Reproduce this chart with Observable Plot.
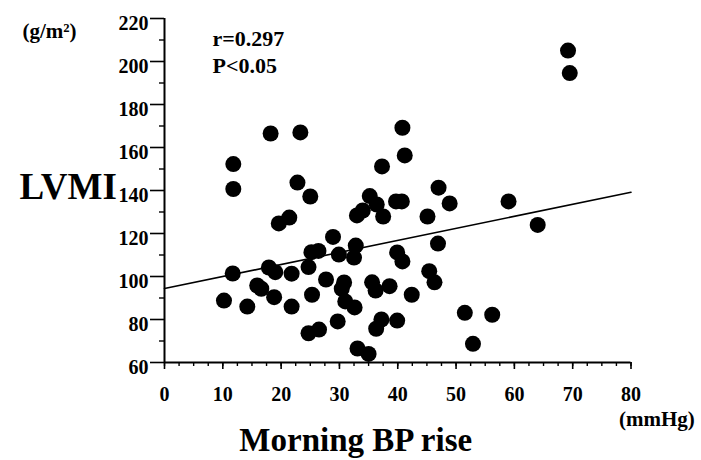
<!DOCTYPE html>
<html>
<head>
<meta charset="utf-8">
<script src="https://cdn.jsdelivr.net/npm/d3@7"></script>
<script src="https://cdn.jsdelivr.net/npm/@observablehq/plot@0.6"></script>
<style>
  html, body { margin: 0; padding: 0; background: #fff; }
  svg text { font-weight: 700 !important; font-family: 'Liberation Serif', 'Times New Roman', serif !important; }
</style>
</head>
<body>
<div id="chart"></div>
<script>
// Morning BP rise (mmHg)
const bpRise = [11.8, 11.8, 18.2, 23.3, 22.8, 25.0, 19.6, 21.4, 28.9, 40.8,
  41.2, 37.3, 35.2, 47.0, 48.9, 39.7, 40.7, 36.4, 34.0, 33.0,
  37.5, 45.1, 46.9, 25.2, 26.4, 29.9, 32.8, 32.5, 39.9, 40.8,
  11.7, 17.9, 19.0, 21.8, 24.7, 27.7, 15.9, 16.6, 10.2, 14.2,
  18.8, 21.8, 25.3, 29.7, 24.7, 26.5, 30.8, 30.4, 35.6, 36.2,
  38.6, 42.4, 45.4, 46.3, 31.0, 32.6, 37.2, 36.3, 39.9, 33.1,
  35.0, 51.5, 52.9, 56.2, 59.0, 64.0, 69.2, 69.5];
// LVMI (g/m2)
const lvmi = [152.3, 140.7, 166.5, 167.0, 143.7, 137.2, 124.7, 127.4, 118.4, 169.2,
  156.3, 151.2, 137.4, 141.3, 134.0, 134.9, 134.9, 133.5, 130.7, 128.4,
  127.9, 127.9, 115.3, 111.3, 111.9, 110.2, 114.4, 108.8, 111.2, 107.0,
  101.4, 104.2, 102.0, 101.3, 104.4, 98.6, 95.8, 94.3, 88.8, 86.0,
  90.4, 86.0, 91.5, 79.1, 73.6, 75.3, 97.2, 94.3, 97.3, 93.5,
  95.5, 91.5, 102.5, 97.3, 88.4, 85.6, 80.0, 75.7, 79.5, 66.5,
  64.0, 83.1, 68.7, 82.2, 134.9, 124.0, 205.1, 194.6];
// Regression line end points
const fitX = [0, 80];
const fitY = [94.4, 139.2];
// Axis ticks
const xTicks = [0, 10, 20, 30, 40, 50, 60, 70, 80];
const xMinorTicks = d3.range(0, 80.01, 2.5);
const yTicks = [60, 80, 100, 120, 140, 160, 180, 200, 220];
const yMinorTicks = [70, 90, 110, 130, 150, 170, 190, 210];
// Texts
const yTitle = "LVMI";
const yUnit = "(g/m²)";
const xTitle = "Morning BP rise";
const xUnit = "(mmHg)";
const statR = "r=0.297";
const statP = "P<0.05";

const points = bpRise.map((x, i) => ({x, y: lvmi[i]}));
const fit = fitX.map((x, i) => ({x, y: fitY[i]}));

const font = "'Liberation Serif', 'Times New Roman', serif";
const tx = d => d;
const textOpts = {text: tx, lineAnchor: "middle", fontWeight: "bold", fontFamily: font};

const chart = Plot.plot({
  width: 701,
  height: 460,
  marginLeft: 164,
  marginRight: 70.5,
  marginTop: 18,
  marginBottom: 98,
  x: {domain: [0, 80]},
  y: {domain: [60, 220]},
  style: {fontFamily: font, fontWeight: "bold", fontSize: "20px", color: "black", background: "white", overflow: "visible"},
  marks: [
    Plot.axisY({ticks: yTicks, tickSize: 14, strokeWidth: 1.6, tickFormat: () => "", label: null}),
    Plot.axisY({ticks: yMinorTicks, tickSize: 5, strokeWidth: 1.4, tickFormat: () => "", label: null}),
    Plot.axisY({ticks: yTicks, tickSize: 0, tickPadding: 16, dy: 5, fontSize: 20, fontWeight: "bold", fontFamily: font, label: null}),
    Plot.axisX({ticks: xTicks, tickSize: 7, tickPadding: 17, strokeWidth: 1.6, fontSize: 20, fontWeight: "bold", fontFamily: font, label: null}),
    Plot.axisX({ticks: xMinorTicks, tickSize: 4, strokeWidth: 1.4, tickFormat: () => "", label: null}),
    Plot.ruleX([0], {strokeWidth: 2}),
    Plot.ruleY([60], {strokeWidth: 2}),
    Plot.line(fit, {x: "x", y: "y", stroke: "black", strokeWidth: 1.6}),
    Plot.dot(points, {x: "x", y: "y", r: 8, fill: "black", stroke: null}),
    Plot.text([yTitle], {...textOpts, frameAnchor: "left", dx: -145, dy: -3, textAnchor: "start", fontSize: 37}),
    Plot.text([yUnit], {...textOpts, frameAnchor: "top-left", dx: -142, dy: 12.5, textAnchor: "start", fontSize: 21}),
    Plot.text([statR], {...textOpts, frameAnchor: "top-left", dx: 48, dy: 20.5, textAnchor: "start", fontSize: 22}),
    Plot.text([statP], {...textOpts, frameAnchor: "top-left", dx: 48, dy: 47, textAnchor: "start", fontSize: 22}),
    Plot.text([xTitle], {...textOpts, frameAnchor: "bottom", dx: -42, dy: 78, fontSize: 33}),
    Plot.text([xUnit], {...textOpts, frameAnchor: "bottom-right", dx: -12, dy: 57, textAnchor: "start", fontSize: 21})
  ]
});
document.getElementById("chart").appendChild(chart);
</script>
</body>
</html>
